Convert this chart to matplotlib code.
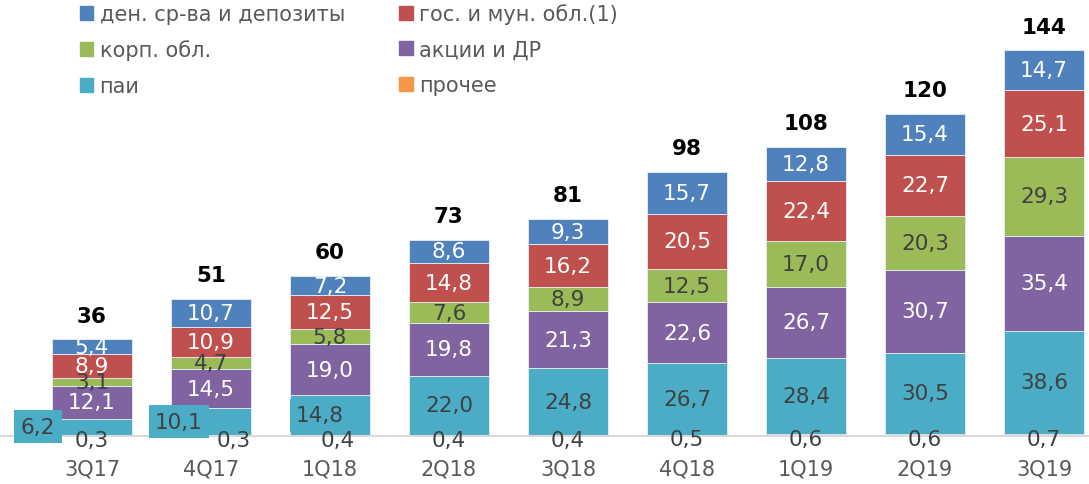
import numpy as np
import matplotlib.pyplot as plt
from matplotlib.patches import Patch

#--------------------------------------------------------------------------------------------------------------------------------
# Datos
quarters = ['3Q17', '4Q17', '1Q18', '2Q18', '3Q18', '4Q18', '1Q19', '2Q19', '3Q19']
prochee  = [0.3, 0.3, 0.4, 0.4, 0.4, 0.5, 0.6, 0.6, 0.7]
pai      = [6.2, 10.1, 14.8, 22.0, 24.8, 26.7, 28.4, 30.5, 38.6]
akcii    = [12.1, 14.5, 19.0, 19.8, 21.3, 22.6, 26.7, 30.7, 35.4]
korp     = [3.1, 4.7, 5.8, 7.6, 8.9, 12.5, 17.0, 20.3, 29.3]
gos      = [8.9, 10.9, 12.5, 14.8, 16.2, 20.5, 22.4, 22.7, 25.1]
den      = [5.4, 10.7, 7.2, 8.6, 9.3, 15.7, 12.8, 15.4, 14.7]
totals   = [36, 51, 60, 73, 81, 98, 108, 120, 144]

names = ['прочее', 'паи', 'акции и ДР', 'корп. обл.', 'гос. и мун. обл.(1)', 'ден. ср-ва и депозиты']
series = [prochee, pai, akcii, korp, gos, den]
colors = ['#F79646', '#4BACC6', '#8064A2', '#9BBB59', '#C0504D', '#4F81BD']
txtcol = ['#404040', '#404040', 'white', '#404040', 'white', 'white']

#--------------------------------------------------------------------------------------------------------------------------------
fig = plt.figure(figsize=(10.89, 4.85), dpi=100)
ax = fig.add_axes([0, 0.099, 1, 0.901])

x = np.arange(len(quarters))
w = 0.67
fs = 15.5
bottom = np.zeros(len(quarters))
for vals, c, tc, nm in zip(series, colors, txtcol, names):
    vals = np.array(vals)
    if nm == 'прочее':
        ax.bar(x, vals, w, bottom=bottom, color=c, edgecolor='none')
    else:
        ax.bar(x, vals, w, bottom=bottom, color=c, edgecolor='#e8eef6', linewidth=0.6)
    for i in range(len(x)):
        yc = bottom[i] + vals[i] / 2
        lab = ('%.1f' % vals[i]).replace('.', ',')
        if nm == 'паи' and i < 3:
            dx = [-54, -32, -10][i]
            ax.annotate(lab, (x[i], yc), xytext=(dx * 0.72, 0), textcoords='offset points',
                        ha='center', va='center', fontsize=fs, color=tc,
                        bbox=dict(boxstyle='square,pad=0.3', fc=c, ec='none'))
        elif nm == 'прочее':
            dx = [0, 23, 8, 0, 0, 0, 0, 0, 0][i]
            ax.annotate(lab, (x[i], yc), xytext=(dx * 0.72, -3), textcoords='offset points',
                        ha='center', va='center', fontsize=fs, color=tc, zorder=4)
        else:
            ax.text(x[i], yc, lab, ha='center', va='center', fontsize=fs, color=tc)
    bottom = bottom + vals

for i in range(len(x)):
    ax.annotate(str(totals[i]), (x[i], bottom[i]), xytext=(0, 10), textcoords='offset points',
                ha='center', va='bottom', fontsize=15.5, fontweight='bold', color='black')

ax.set_xlim(-0.773, 8.378)
ax.set_ylim(0, 163)
ax.set_xticks(x)
ax.set_xticklabels(quarters, fontsize=15, color='#595959')
ax.tick_params(axis='x', length=0, pad=16)
ax.set_yticks([])
for s in ['top', 'right', 'left']:
    ax.spines[s].set_visible(False)
ax.spines['bottom'].set_color('#D9D9D9')
ax.spines['bottom'].set_linewidth(1.5)

# leyenda
order = [5, 3, 1, 4, 2, 0]
handles = [Patch(color=colors[k], label=names[k]) for k in order]
fig.legend(handles=handles, loc='upper left', bbox_to_anchor=(0.056, 1.03), ncol=2, frameon=False,
           fontsize=15, handlelength=0.65, handleheight=0.65, handletextpad=0.3,
           columnspacing=2.6, labelspacing=0.75, labelcolor='#595959')

plt.savefig('out.png', dpi=100)
